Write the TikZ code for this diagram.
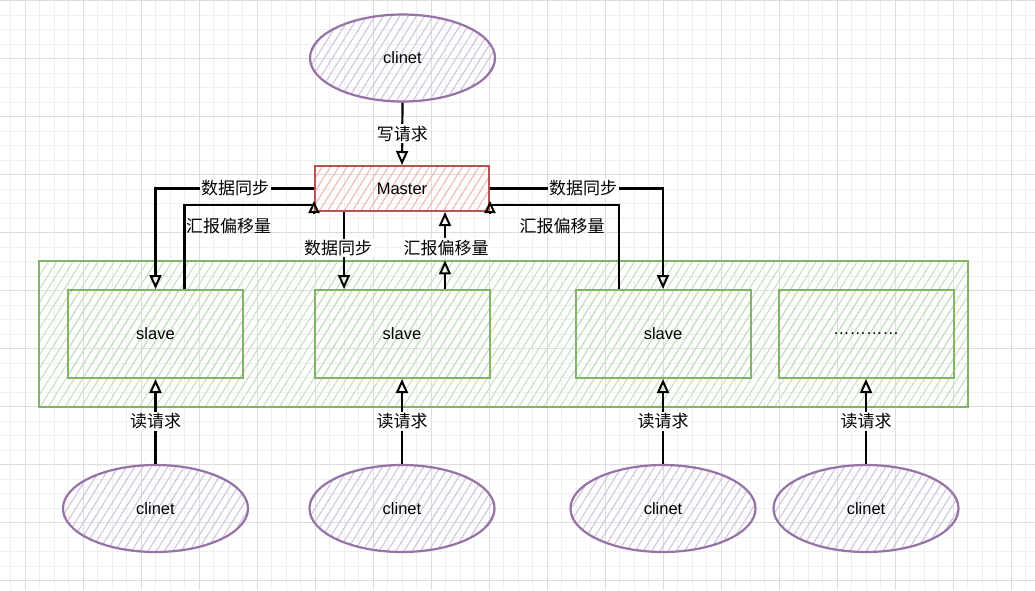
\documentclass[tikz,border=0pt]{standalone}
\usepackage{fontspec}
\setmainfont{Liberation Sans}
\newfontfamily\cjk{Noto Sans CJK SC}
\usetikzlibrary{shapes.geometric,patterns.meta,arrows.meta}
\definecolor{gridmaj}{HTML}{DDDDDD}
\definecolor{gridmin}{HTML}{EFEFEF}
\definecolor{purpS}{HTML}{9673A6}
\definecolor{purpF}{HTML}{D3C4DE}
\definecolor{redS}{HTML}{B85450}
\definecolor{redF}{HTML}{F2B8B5}
\definecolor{grnS}{HTML}{82B366}
\definecolor{grnF}{HTML}{C8E0C4}
\tikzset{
  hatch/.style={pattern={Lines[angle=58,distance=7pt,line width=1.1pt]}, pattern color=#1},
  ell/.style={ellipse, draw=purpS, line width=2.2pt, hatch=purpF, minimum width=185pt, minimum height=87pt, inner sep=0pt, font=\fontsize{16.5}{18}\selectfont},
  box/.style={rectangle, draw=grnS, line width=2pt, hatch=grnF, minimum width=175pt, minimum height=88pt, inner sep=0pt, font=\fontsize{16.5}{18}\selectfont},
  mbox/.style={rectangle, draw=redS, line width=2pt, hatch=redF, minimum width=174pt, minimum height=45pt, inner sep=0pt, font=\fontsize{16.5}{18}\selectfont},
  cont/.style={rectangle, draw=grnS, line width=2pt, hatch=grnF, minimum width=929pt, minimum height=146pt, inner sep=0pt},
  lbl/.style={fill=white, inner sep=1.5pt, font=\cjk\fontsize{17}{19}\selectfont},
  flbl/.style={inner sep=1pt, font=\cjk\fontsize{17}{19}\selectfont},
  conn/.style={draw=black, line width=2.2pt},
  arr/.style={conn, -{Triangle[open,length=14pt,width=12pt,line width=2pt]}},
  sarr/.style={conn, -{Triangle[open,length=12pt,width=11pt,line width=2pt]}},
}
\begin{document}
\begin{tikzpicture}[x=1pt,y=-1pt]
\useasboundingbox (0,0) rectangle (1035,590);
\fill[white] (0,0) rectangle (1035,590);
% grid
\foreach \i in {0,...,72} {
  \draw[gridmin, line width=1pt] ({-3.7+14.5*\i},0) -- ({-3.7+14.5*\i},590);
}
\foreach \i in {0,...,41} {
  \draw[gridmin, line width=1pt] (0,{0.5+14.5*\i}) -- (1035,{0.5+14.5*\i});
}
\foreach \i in {0,...,18} {
  \draw[gridmaj, line width=1pt] ({25.3+58*\i},0) -- ({25.3+58*\i},590);
}
\foreach \i in {0,...,10} {
  \draw[gridmaj, line width=1pt] (0,{0.5+58*\i}) -- (1035,{0.5+58*\i});
}

% container
\node[cont] (cont) at (503.5,334) {};
% slaves
\node[box] (s1) at (155.5,334) {slave};
\node[box] (s2) at (402,334) {slave};
\node[box] (s3) at (663,334) {slave};
\node[box] (s4) at (866,334) {…………};
% master
\node[mbox] (master) at (402,188.5) {Master};
% clients
\node[ell] (ctop) at (402.5,58) {clinet};
\node[ell] (c1) at (155.5,508.5) {clinet};
\node[ell] (c2) at (402,508.5) {clinet};
\node[ell] (c3) at (663,508.5) {clinet};
\node[ell] (c4) at (866,508.5) {clinet};

% write request
\draw[arr] (ctop.south) -- node[lbl]{写请求} (master.north);

% left sync
\draw[arr] (master.west) -| (s1.north);
\node[lbl] (l1) at (235,188.5) {数据同步};
% left report
\draw[conn] ([xshift=29pt]s1.north) |- ([yshift=7pt]master.south west);
\draw[sarr] ([yshift=-1pt]master.south west) -- ([yshift=11pt]master.south west);
\node[flbl] (l2) at (228.5,226) {汇报偏移量};

% middle sync
\draw[arr] ([xshift=-58pt]master.south) -- ([xshift=-58pt]s2.north);
\node[lbl] (l3) at (338,248) {数据同步};
% middle report
\node[lbl] (l4) at (446,248) {汇报偏移量};
\draw[arr] ([xshift=43pt]s2.north) -- ([xshift=43pt]cont.north -| s2.north);
\draw[arr] (l4.north -| 445,0) -- ([xshift=43pt]master.south);

% right sync
\draw[arr] (master.east) -| (s3.north);
\node[lbl] (l5) at (583,188.5) {数据同步};
% right report
\draw[conn] ([xshift=-44pt]s3.north) |- ([yshift=7pt]master.south east);
\draw[sarr] ([yshift=-1pt]master.south east) -- ([yshift=11pt]master.south east);
\node[flbl] (l6) at (562,226) {汇报偏移量};

% read requests
\draw[arr] (c1.north) -- node[lbl]{读请求} (s1.south);
\draw[arr] (c2.north) -- node[lbl]{读请求} (s2.south);
\draw[arr] (c3.north) -- node[lbl]{读请求} (s3.south);
\draw[arr] (c4.north) -- node[lbl]{读请求} (s4.south);
\end{tikzpicture}
\end{document}
